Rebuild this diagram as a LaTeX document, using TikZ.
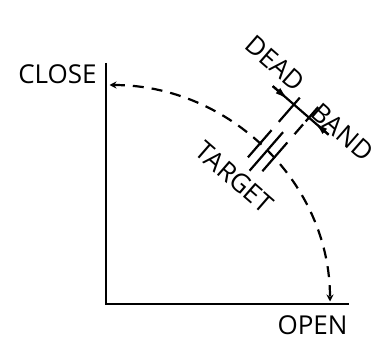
\documentclass[tikz,border=0pt]{standalone}
\usepackage{fontspec}
\setmainfont{Open Sans}
\usetikzlibrary{arrows.meta}
\begin{document}
\begin{tikzpicture}[x=1pt,y=1pt,
  lbl/.style={inner sep=0pt, font=\fontsize{26}{26}\selectfont},
  axisline/.style={line width=2.8pt},
  curveline/.style={line width=2.2pt, dash pattern=on 11pt off 8pt,
    {Stealth[length=7pt,width=7pt]}-{Stealth[length=7pt,width=7pt]}},
  markline/.style={line width=2.2pt},
  dimline/.style={line width=2.2pt},
  dimtip/.style={line width=2.2pt, -{Latex[length=14pt,width=7pt]}}
]
\useasboundingbox (0,0) rectangle (374,338);
% axes
\coordinate (O) at (106,34);
\coordinate (Ytop) at (106,275);
\coordinate (Xend) at (349,34);
\draw[axisline] (Ytop) -- (O) -- (Xend);
\node[lbl] (close) at (57.5,264) {CLOSE};
\node[lbl] (open) at (312.5,13) {OPEN};
% dashed travel curve
\coordinate (cs) at (106,253);
\draw[curveline, shorten <=3.5pt, shorten >=2.5pt] (cs) arc[start angle=90, end angle=0, x radius=224pt, y radius=219pt];
% target and dead band, in a frame along the curve
\begin{scope}[shift={(267.3,187.7)}, rotate=-41]
  \coordinate (a0) at (-10,-18);
  \coordinate (a1) at (-10,18);
  \coordinate (a2) at (-10,29);
  \coordinate (a3) at (-10,61);
  \coordinate (b0) at (0,-27);
  \coordinate (b1) at (0,24);
  \coordinate (c0) at (10,-19);
  \coordinate (c1) at (10,19);
  \coordinate (c2) at (10,30);
  \coordinate (c3) at (10,43);
  \coordinate (c4) at (10,47);
  \coordinate (c5) at (10,66);
  \draw[markline] (a0) -- (a1);
  \draw[markline] (a2) -- (a3);
  \draw[markline] (b0) -- (b1);
  \draw[markline] (c0) -- (c1);
  \draw[markline] (c2) -- (c3);
  \draw[markline] (c4) -- (c5);
  \coordinate (d1) at (-38,52);
  \coordinate (t1) at (-17,52);
  \coordinate (d2) at (36,52);
  \coordinate (t2) at (17,52);
  \draw[dimline] (d1) -- (d2);
  \draw[dimtip] (d1) -- (t1);
  \draw[dimtip] (d2) -- (t2);
  \node[lbl, rotate=-41] (dead) at (-51,71) {DEAD};
  \node[lbl, rotate=-41] (band) at (45,63) {BAND};
  \node[lbl, rotate=-41] (target) at (-7,-42) {TARGET};
\end{scope}
\end{tikzpicture}
\end{document}
